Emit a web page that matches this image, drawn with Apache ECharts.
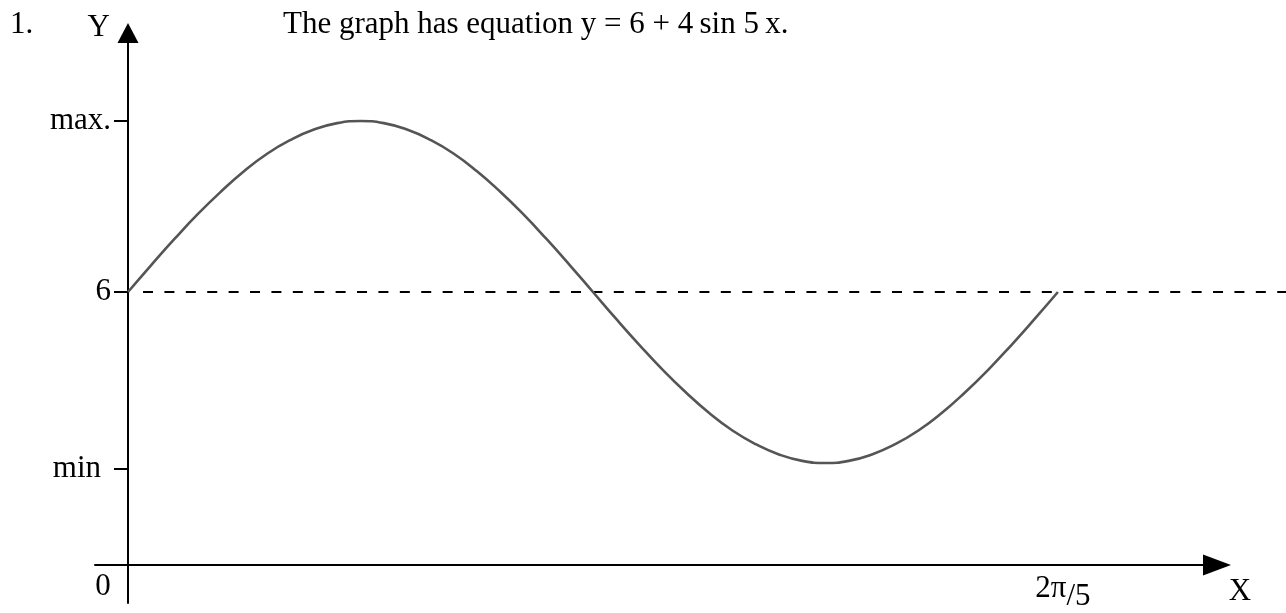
<!DOCTYPE html>
<html>
<head>
<meta charset="utf-8">
<script src="https://cdn.jsdelivr.net/npm/echarts@6/dist/echarts.min.js"></script>
<style>
  html, body { margin: 0; padding: 0; background: #fff; }
  #chart { width: 1286px; height: 613px; }
</style>
</head>
<body>
<div id="chart"></div>
<script>
// One full period of the curve, sampled every 9 degrees of 5x
const xValues = [0, 0.0314, 0.0628, 0.0942, 0.1257, 0.1571, 0.1885, 0.2199, 0.2513, 0.2827,
  0.3142, 0.3456, 0.3770, 0.4084, 0.4398, 0.4712, 0.5027, 0.5341, 0.5655, 0.5969,
  0.6283, 0.6597, 0.6912, 0.7226, 0.7540, 0.7854, 0.8168, 0.8482, 0.8796, 0.9111,
  0.9425, 0.9739, 1.0053, 1.0367, 1.0681, 1.0996, 1.1310, 1.1624, 1.1938, 1.2252, 1.2566];
const yValues = [6.00, 6.63, 7.24, 7.82, 8.35, 8.83, 9.24, 9.56, 9.80, 9.95,
  10.00, 9.95, 9.80, 9.56, 9.24, 8.83, 8.35, 7.82, 7.24, 6.63,
  6.00, 5.37, 4.76, 4.18, 3.65, 3.17, 2.76, 2.44, 2.20, 2.05,
  2.00, 2.05, 2.20, 2.44, 2.76, 3.17, 3.65, 4.18, 4.76, 5.37, 6.00];

// Dashed centre line y = 6, running on to the right edge
const midlineX = [0.0203, 1.565];
const midlineLevel = 6;

// Axis marks
const yTickValues = [1.86, 6, 10];
const yTickLabels = ['min', '6', 'max.'];
const xTickValues = [0, 1.2566];
const xTickLabels = ['0', '2π/5'];

const serif = '"Liberation Serif", "Times New Roman", serif';
const FS = 31;
const baseText = { fontFamily: serif, fontSize: FS, color: '#000', fontWeight: 'normal', lineHeight: 30 };

const X_MIN = -0.0446, X_MAX = 1.4716;
const Y_MIN = -1.2749, Y_MAX = 12.0585;

function nearestIndex(list, v) {
  let best = 0;
  list.forEach((t, i) => { if (Math.abs(t - v) < Math.abs(list[best] - v)) best = i; });
  return best;
}

const chart = echarts.init(document.getElementById('chart'), null, { renderer: 'canvas' });

chart.setOption({
  animation: false,
  backgroundColor: '#fff',
  title: [
    { text: '1.', left: 10, top: 10, padding: 0, textStyle: baseText },
    { text: 'The graph has equation y = 6 + 4\u2009sin 5\u2009x.', left: 283, top: 10, padding: 0, textStyle: baseText }
  ],
  grid: [
    { left: 95, right: 69, top: 33, bottom: 10 },
    // same vertical scale, wider so the centre line reaches the edge
    { left: 95, right: 0, top: 33, bottom: 10 }
  ],
  xAxis: [{
    type: 'value',
    gridIndex: 0,
    min: X_MIN,
    max: X_MAX,
    offset: -38,
    name: 'X',
    nameLocation: 'end',
    nameGap: 23,
    nameTextStyle: Object.assign({}, baseText, { align: 'center', verticalAlign: 'top', padding: [12, 0, 0, 0] }),
    axisLine: {
      onZero: false,
      symbol: ['none', 'triangle'],
      symbolSize: [21, 28],
      lineStyle: { color: '#000', width: 2 }
    },
    axisTick: { show: false },
    splitLine: { show: false },
    axisLabel: {
      customValues: xTickValues,
      margin: 7,
      fontFamily: serif,
      fontSize: FS,
      color: '#000',
      formatter: function (v) {
        const s = xTickLabels[nearestIndex(xTickValues, v)];
        if (s.indexOf('/') > 0) {
          const parts = s.split('/');
          return '{n|' + parts[0] + '}{d|/' + parts[1] + '}';
        }
        return '{z|' + s + '}';
      },
      rich: {
        z: { fontFamily: serif, fontSize: FS, color: '#000', lineHeight: 30, padding: [0, 50, 0, 0] },
        n: { fontFamily: serif, fontSize: FS, color: '#000', lineHeight: 30, padding: [8, 0, 4, 10] },
        d: { fontFamily: serif, fontSize: FS, color: '#000', lineHeight: 30, padding: [20, 0, 0, 0] }
      }
    }
  }, {
    type: 'value',
    gridIndex: 1,
    show: false,
    min: X_MIN,
    max: 1.565
  }],
  yAxis: [{
    type: 'value',
    gridIndex: 0,
    min: Y_MIN,
    max: Y_MAX,
    name: 'Y',
    nameLocation: 'end',
    nameGap: 5,
    nameTextStyle: Object.assign({}, baseText, { align: 'right', verticalAlign: 'middle', padding: [6, 18, 0, 0] }),
    axisLine: {
      onZero: true,
      symbol: ['none', 'triangle'],
      symbolSize: [21, 20],
      lineStyle: { color: '#000', width: 2 }
    },
    axisTick: {
      show: true,
      customValues: yTickValues,
      length: 14,
      lineStyle: { color: '#000', width: 2 }
    },
    splitLine: { show: false },
    axisLabel: {
      customValues: yTickValues,
      margin: -16,
      fontFamily: serif,
      fontSize: FS,
      color: '#000',
      formatter: function (v) {
        const s = yTickLabels[nearestIndex(yTickValues, v)];
        return s === 'min' ? '{m|' + s + '}' : s;
      },
      rich: {
        m: { fontFamily: serif, fontSize: FS, color: '#000', padding: [0, 10, 0, 0] }
      }
    }
  }, {
    type: 'value',
    gridIndex: 1,
    show: false,
    min: Y_MIN,
    max: Y_MAX
  }],
  series: [
    {
      name: 'y = 6 + 4sin 5x',
      type: 'line',
      xAxisIndex: 0,
      yAxisIndex: 0,
      data: xValues.map((x, i) => [x, yValues[i]]),
      smooth: true,
      symbol: 'none',
      lineStyle: { color: '#555', width: 2.6 },
      z: 3
    },
    {
      name: 'y = 6',
      type: 'line',
      xAxisIndex: 1,
      yAxisIndex: 1,
      data: midlineX.map(x => [x, midlineLevel]),
      symbol: 'none',
      lineStyle: { color: '#000', width: 2, type: [10, 11.4] },
      z: 2
    }
  ]
});
</script>
</body>
</html>
